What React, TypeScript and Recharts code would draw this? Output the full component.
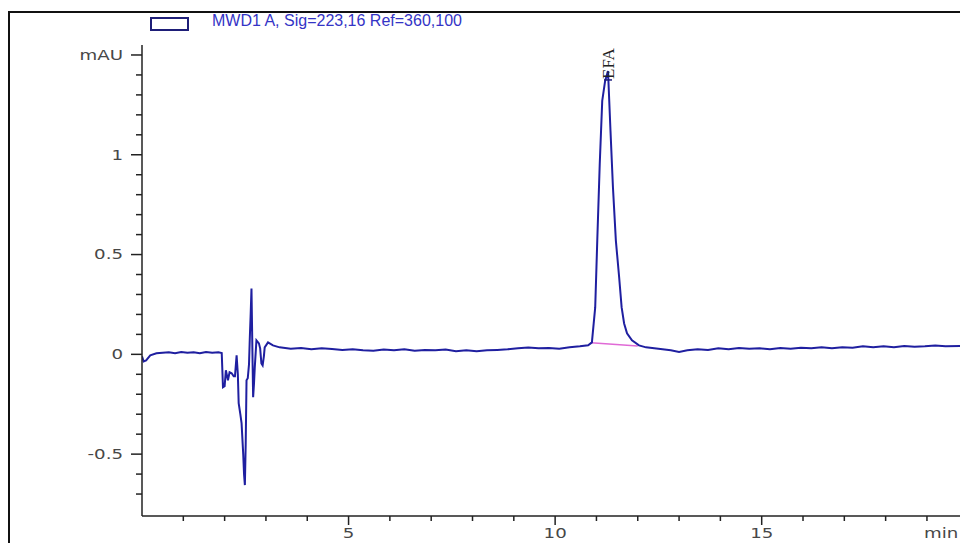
import React from 'react';
import { LineChart, Line, XAxis, YAxis, ReferenceDot } from 'recharts';

// retention time (min) and signal (mAU)
const TIME = [
  0, 0.04, 0.1, 0.2, 0.35, 0.5, 0.65, 0.8, 0.95, 1.1, 1.25, 1.4, 1.55, 1.7, 1.85, 1.93,
  1.96, 2.0, 2.03, 2.08, 2.12, 2.17, 2.22, 2.25, 2.29, 2.32, 2.34, 2.38, 2.41, 2.45, 2.47, 2.49,
  2.51, 2.53, 2.56, 2.59, 2.61, 2.63, 2.65, 2.67, 2.69, 2.71, 2.73, 2.77, 2.83, 2.86, 2.89, 2.92,
  2.95, 2.97, 3.05, 3.17,
  3.33, 3.6, 3.85, 4.1, 4.35, 4.6, 4.85, 5.1, 5.35, 5.6, 5.85, 6.1, 6.35, 6.6, 6.85, 7.1, 7.35,
  7.6, 7.85, 8.1, 8.35, 8.6, 8.85, 9.1, 9.35, 9.6, 9.85, 10.1, 10.35, 10.6, 10.8,
  10.89, 10.97, 11.02, 11.08, 11.14, 11.21, 11.28, 11.34, 11.4, 11.47, 11.55, 11.61, 11.67, 11.74,
  11.86, 12.03, 12.2,
  12.4, 12.6, 12.8, 13.0, 13.2, 13.45, 13.7, 13.95, 14.2, 14.45, 14.7, 14.95, 15.2, 15.45, 15.7,
  15.95, 16.2, 16.45, 16.7, 16.95, 17.2, 17.45, 17.7, 17.95, 18.2, 18.45, 18.7, 18.95, 19.2, 19.45, 19.8,
];
const SIGNAL = [
  -0.01, -0.035, -0.03, -0.005, 0.005, 0.008, 0.01, 0.006, 0.012, 0.008, 0.01, 0.005, 0.012, 0.008, 0.01, 0.006,
  -0.165, -0.16, -0.08, -0.13, -0.09, -0.095, -0.11, -0.11, -0.005, -0.1, -0.245, -0.3, -0.345, -0.5, -0.6, -0.655,
  -0.45, -0.13, -0.12, -0.05, 0.085, 0.2, 0.33, 0.05, -0.215, -0.15, -0.065, 0.07, 0.055, 0.03, -0.045, -0.055,
  -0.01, 0.035, 0.06, 0.045,
  0.035, 0.028, 0.032, 0.025, 0.03, 0.027, 0.022, 0.026, 0.02, 0.018, 0.024, 0.02, 0.025, 0.018, 0.022, 0.02, 0.024,
  0.016, 0.02, 0.015, 0.02, 0.022, 0.025, 0.03, 0.034, 0.03, 0.032, 0.028, 0.035, 0.04, 0.045,
  0.06, 0.235, 0.57, 0.955, 1.27, 1.37, 1.42, 1.12, 0.835, 0.57, 0.385, 0.235, 0.155, 0.105,
  0.07, 0.045, 0.035,
  0.03, 0.025, 0.02, 0.012, 0.02, 0.025, 0.022, 0.03, 0.025, 0.032, 0.028, 0.03, 0.025, 0.032, 0.028,
  0.033, 0.03, 0.035, 0.03, 0.036, 0.033, 0.04, 0.035, 0.04, 0.036, 0.042, 0.038, 0.04, 0.044, 0.04, 0.042,
];

// integration baseline under the peak
const BASE_TIME = [10.87, 12.0];
const BASE_SIGNAL = [0.058, 0.042];

const PEAK_NAME = 'EFA';
const PEAK_TIME = 11.28;
const PEAK_SIGNAL = 1.42;

const X_TICKS = [1, 2, 3, 4, 5, 6, 7, 8, 9, 10, 11, 12, 13, 14, 15, 16, 17, 18, 19];
const X_MAJOR = [5, 10, 15];
const Y_TICKS = [-0.7, -0.6, -0.5, -0.4, -0.3, -0.2, -0.1, 0, 0.1, 0.2, 0.3, 0.4, 0.5, 0.6, 0.7, 0.8, 0.9, 1, 1.1, 1.2, 1.3, 1.4, 1.5];
const Y_MAJOR = [-0.5, 0, 0.5, 1, 1.5];
const Y_MAJOR_LABELS = ['-0.5', '0', '0.5', '1', 'mAU'];

const LEGEND_TEXT = 'MWD1 A, Sig=223,16 Ref=360,100';

const trace = TIME.map((t, i) => ({ t, v: SIGNAL[i] }));
const baseline = BASE_TIME.map((t, i) => ({ t, v: BASE_SIGNAL[i] }));

const LABEL_FONT = '"DejaVu Sans", sans-serif';
const LABEL_COLOR = '#474747';

const StretchText = ({ x, y, anchor, children }: any) => (
  <g transform={`translate(${x},${y}) scale(1.3,1)`}>
    <text x={0} y={0} textAnchor={anchor} dominantBaseline="central" fontFamily={LABEL_FONT} fontSize={14} fill={LABEL_COLOR}>
      {children}
    </text>
  </g>
);

const XTick = (props: any) => {
  const { x, y, payload } = props;
  const major = X_MAJOR.includes(payload.value);
  return (
    <g>
      <line x1={x} x2={x} y1={y} y2={y + (major ? 9 : 5)} stroke="#222" strokeWidth={1.5} />
      {major && <StretchText x={x} y={y + 17} anchor="middle">{payload.value}</StretchText>}
    </g>
  );
};

const YTick = (props: any) => {
  const { x, y, payload } = props;
  const idx = Y_MAJOR.findIndex((m) => Math.abs(m - payload.value) < 1e-6);
  const major = idx >= 0;
  return (
    <g>
      <line x1={x - (major ? 11 : 6)} x2={x} y1={y} y2={y} stroke="#222" strokeWidth={1.5} />
      {major && <StretchText x={x - 19} y={y} anchor="end">{Y_MAJOR_LABELS[idx]}</StretchText>}
    </g>
  );
};

const MinLabel = (props: any) => {
  const { viewBox } = props;
  return <StretchText x={viewBox.x + viewBox.width - 36} y={viewBox.y + 17} anchor="start">min</StretchText>;
};

const PeakMark = (props: any) => {
  const { cx, cy } = props;
  return (
    <g>
      <line x1={cx - 4} x2={cx + 4} y1={cy + 9} y2={cy + 9} stroke="#1c1c7c" strokeWidth={1.5} />
      <text
        x={cx}
        y={cy + 8}
        transform={`rotate(-90, ${cx}, ${cy + 8})`}
        textAnchor="start"
        dominantBaseline="central"
        fontFamily='"Liberation Serif", serif'
        fontSize={17}
        fill="#222"
      >
        {PEAK_NAME}
      </text>
    </g>
  );
};

export default function App() {
  return (
    <div style={{ position: 'absolute', left: 0, top: 0, width: 960, height: 543, background: '#fff', overflow: 'hidden' }}>
      <div style={{ position: 'absolute', left: 8, top: 11, width: 952, height: 532, borderLeft: '2px solid #111', borderTop: '2px solid #111' }} />
      <div style={{ position: 'absolute', left: 150, top: 17, width: 35, height: 10, border: '2px solid #1e1e78' }} />
      <div style={{ position: 'absolute', left: 212, top: 12, fontFamily: '"Liberation Sans", Arial, sans-serif', fontSize: 16, color: '#3434c6', whiteSpace: 'nowrap' }}>
        {LEGEND_TEXT}
      </div>
      <div style={{ position: 'absolute', left: 0, top: 0 }}>
        <LineChart width={960} height={543} margin={{ top: 45, right: 0, left: 82, bottom: 7 }}>
          <XAxis
            dataKey="t"
            type="number"
            domain={[0, 19.8]}
            allowDataOverflow
            ticks={X_TICKS}
            interval={0}
            height={20}
            tickSize={0}
            tickMargin={0}
            tickLine={false}
            axisLine={{ stroke: '#222', strokeWidth: 1.5 }}
            tick={(p: any) => <XTick {...p} />}
            label={{ content: (p: any) => <MinLabel {...p} /> }}
          />
          <YAxis
            dataKey="v"
            type="number"
            domain={[-0.81, 1.55]}
            allowDataOverflow
            ticks={Y_TICKS}
            interval={0}
            width={60}
            tickSize={0}
            tickMargin={0}
            tickLine={false}
            axisLine={{ stroke: '#222', strokeWidth: 1.5 }}
            tick={(p: any) => <YTick {...p} />}
          />
          <Line data={baseline} dataKey="v" type="linear" stroke="#e06ad6" strokeWidth={1.4} dot={false} isAnimationActive={false} />
          <Line data={trace} dataKey="v" type="linear" stroke="#1f1fa0" strokeWidth={2} dot={false} isAnimationActive={false} />
          <ReferenceDot x={PEAK_TIME} y={PEAK_SIGNAL} r={1} ifOverflow="visible" shape={(p: any) => <PeakMark {...p} />} />
        </LineChart>
      </div>
    </div>
  );
}
